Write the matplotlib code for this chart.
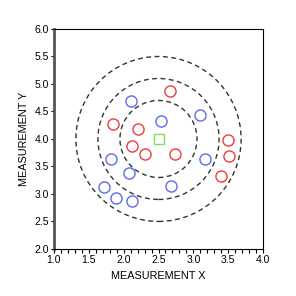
import matplotlib.pyplot as plt
from matplotlib.patches import Ellipse
from matplotlib.ticker import MultipleLocator

plt.rcParams['font.family'] = ['Liberation Sans', 'DejaVu Sans']

# red group
red_x = [2.67, 1.85, 2.20, 2.12, 2.31, 2.73, 3.49, 3.51, 3.40]
red_y = [4.88, 4.27, 4.19, 3.88, 3.72, 3.72, 3.99, 3.69, 3.33]
# blue group
blue_x = [2.10, 2.53, 3.10, 1.82, 3.17, 2.07, 2.68, 1.72, 1.89, 2.12]
blue_y = [4.69, 4.33, 4.43, 3.64, 3.64, 3.38, 3.15, 3.12, 2.93, 2.87]
# centre
cx, cy = 2.5, 4.0
# ring radii (in y units)
radii = [0.7, 1.1, 1.5]

fig = plt.figure(figsize=(2.96, 2.96), dpi=100)
ax = fig.add_axes([0.182, 0.159, 0.707, 0.743])
ax.set_xlim(1.0, 4.0)
ax.set_ylim(2.0, 6.0)

# x units per y unit so the rings come out round on screen
k = (55.0 / 69.67)
for r in radii:
    ax.add_patch(Ellipse((cx, cy), 2 * r * k, 2 * r, fill=False,
                         ls=(0, (3.5, 2.5)), lw=1.0, color='#333333'))

ax.plot(red_x, red_y, 'o', ms=8, mfc='none', mec='#f03c3c', mew=1.0)
ax.plot(blue_x, blue_y, 'o', ms=8, mfc='none', mec='#5a6cf0', mew=1.0)
ax.plot([cx], [cy], 's', ms=7.5, mfc='none', mec='#7de060', mew=1.0)

ax.xaxis.set_major_locator(MultipleLocator(0.5))
ax.xaxis.set_minor_locator(MultipleLocator(0.1))
ax.yaxis.set_major_locator(MultipleLocator(0.5))
ax.xaxis.set_major_formatter(lambda v, p: '%.1f' % v)
ax.yaxis.set_major_formatter(lambda v, p: '%.1f' % v)
ax.tick_params(axis='x', which='both', direction='out', length=3, width=0.8,
               labelsize=7.5, pad=1.5)
ax.tick_params(axis='y', direction='out', length=2.5, width=0.8,
               labelsize=7.5, pad=1)

ax.spines['left'].set_color('#555555')
ax.spines['left'].set_linewidth(2.0)
for s in ['top', 'right', 'bottom']:
    ax.spines[s].set_linewidth(0.8)
    ax.spines[s].set_color('black')

ax.set_xlabel('MEASUREMENT X', fontsize=7.8, labelpad=4)
ax.set_ylabel('MEASUREMENT Y', fontsize=7.8, labelpad=4)

fig.savefig('out.png', dpi=100)
